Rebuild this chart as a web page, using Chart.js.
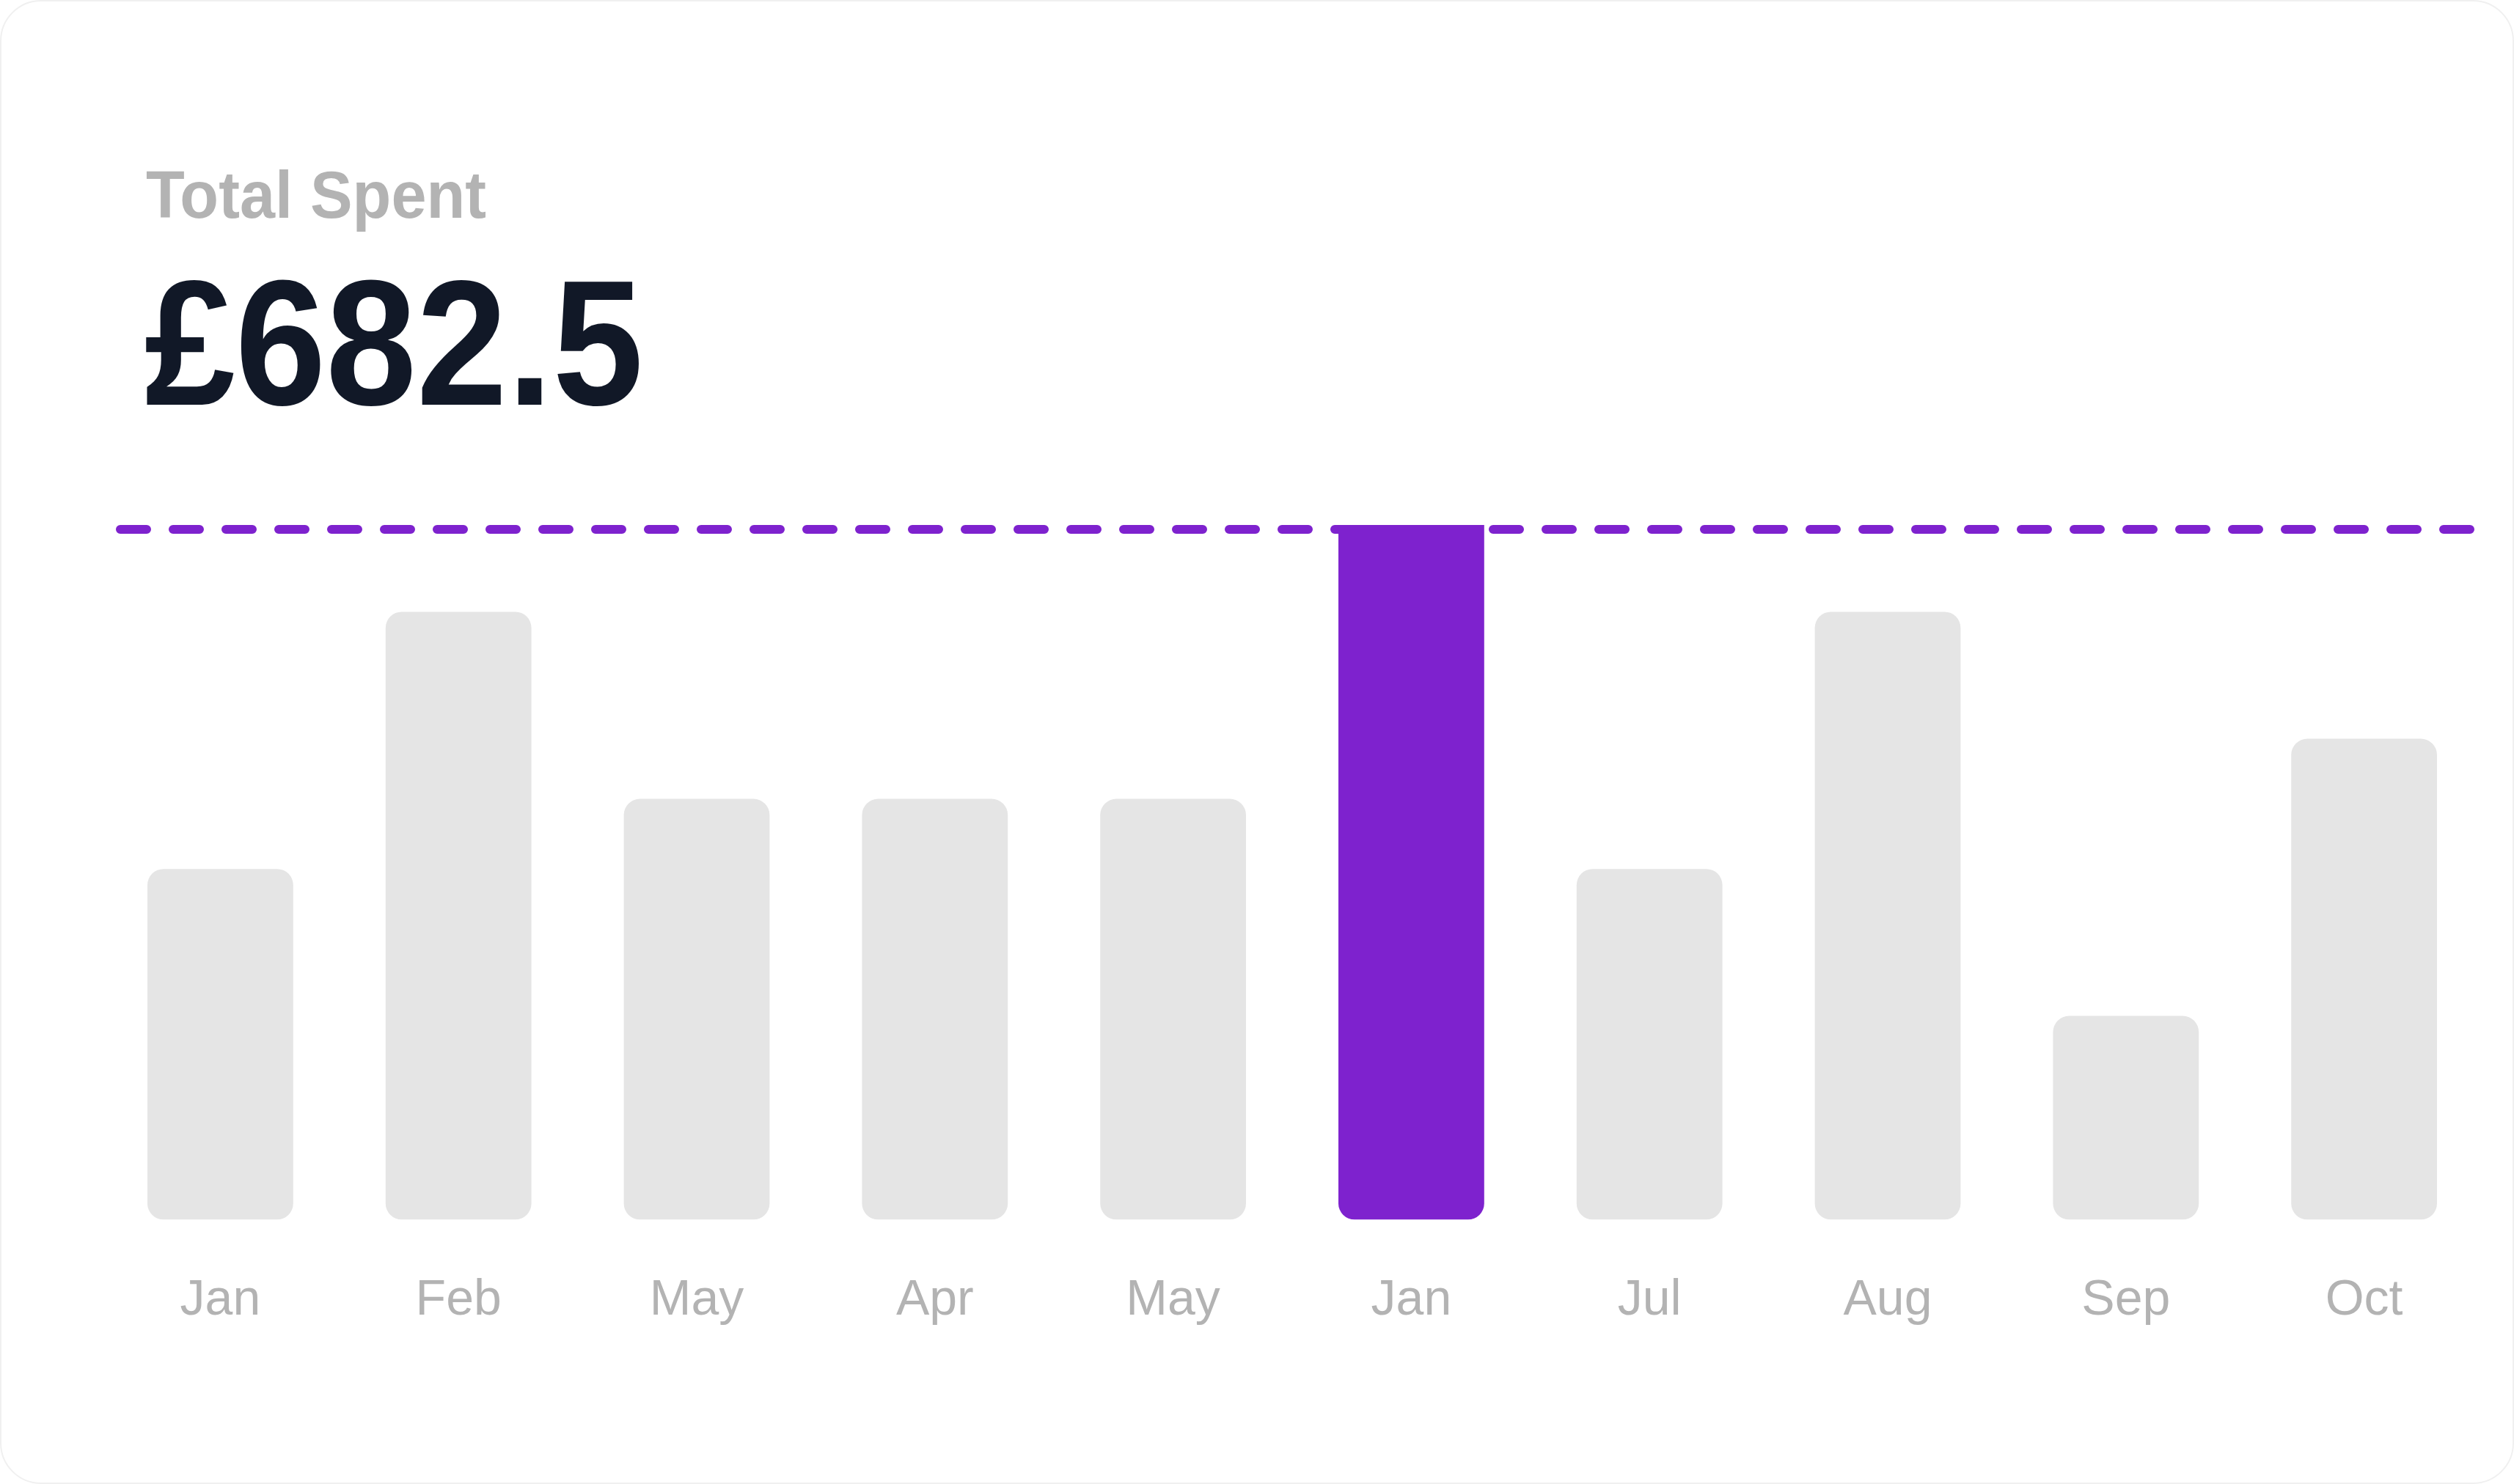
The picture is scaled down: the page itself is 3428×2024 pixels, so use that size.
<!DOCTYPE html>
<html>
<head>
<meta charset="utf-8">
<script src="https://cdn.jsdelivr.net/npm/chart.js@4.4.1/dist/chart.umd.min.js"></script>
<style>
  html, body { margin: 0; padding: 0; background: #fff; }
  .card {
    position: relative;
    width: 3428px;
    height: 2024px;
    box-sizing: border-box;
    border: 2px solid #f0f0f0;
    border-radius: 56px;
    overflow: hidden;
    background: #fff;
    font-family: "Liberation Sans", Arial, sans-serif;
  }
  .card-label {
    position: absolute;
    left: 197px;
    top: 219px;
    font-size: 90px;
    line-height: 1;
    font-weight: bold;
    color: #b3b3b3;
    transform: scaleX(0.96);
    transform-origin: left top;
  }
  .card-total {
    position: absolute;
    left: 195px;
    top: 344px;
    font-size: 243px;
    line-height: 1;
    font-weight: bold;
    color: #111827;
    transform: scaleX(0.915);
    transform-origin: left top;
  }
  .chart-box {
    position: absolute;
    left: 0;
    top: 0;
    width: 3424px;
    height: 2020px;
  }
</style>
</head>
<body>
<div class="card">
  <div class="card-label">Total Spent</div>
  <div class="card-total" id="total"></div>
  <div class="chart-box"><canvas id="spendChart"></canvas></div>
</div>
<script>
// 月ごとの支出データ
const months = ["Jan", "Feb", "May", "Apr", "May", "Jan", "Jul", "Aug", "Sep", "Oct"];
const spent = [52.5, 91, 63, 63, 63, 104, 52.5, 91, 30.5, 72];

const purple = "#7e22ce";
const grey = "#e5e5e5";

// 合計を表示
const total = spent.reduce((sum, v) => sum + v, 0);
document.getElementById("total").textContent = "£" + total.toFixed(1);

const maxValue = Math.max(...spent);
const maxIndex = spent.indexOf(maxValue);

// 最大値の位置に破線を描くプラグイン
const maxLinePlugin = {
  id: "maxLine",
  beforeDatasetsDraw(chart) {
    const { ctx, chartArea, scales } = chart;
    const y = scales.y.getPixelForValue(maxValue) + 6;
    ctx.save();
    ctx.strokeStyle = purple;
    ctx.lineWidth = 12;
    ctx.lineCap = "round";
    ctx.setLineDash([36, 36]);
    ctx.beginPath();
    ctx.moveTo(chartArea.left + 26, y);
    ctx.lineTo(chartArea.right - 4, y);
    ctx.stroke();
    ctx.restore();
  },
};

const chart = new Chart(document.getElementById("spendChart"), {
  type: "bar",
  data: {
    labels: months,
    datasets: [
      {
        data: spent,
        backgroundColor: (c) => (c.dataIndex === maxIndex ? purple : grey),
        borderRadius: (c) =>
          c.dataIndex === maxIndex
            ? { topLeft: 0, topRight: 0, bottomLeft: 22, bottomRight: 22 }
            : 22,
        borderSkipped: false,
        categoryPercentage: 1,
        barPercentage: 0.612,
      },
    ],
  },
  options: {
    responsive: true,
    maintainAspectRatio: false,
    animation: false,
    layout: {
      padding: { left: 136, right: 40, top: 714, bottom: 145 },
    },
    scales: {
      x: {
        grid: { display: false },
        border: { display: false },
        ticks: {
          color: "#b3b3b3",
          padding: 62,
          font: { family: "'Liberation Sans', Arial, sans-serif", size: 68 },
        },
      },
      y: {
        display: false,
        min: 0,
        max: maxValue,
      },
    },
    plugins: {
      legend: { display: false },
      tooltip: { enabled: false },
    },
  },
  plugins: [maxLinePlugin],
});
</script>
</body>
</html>
